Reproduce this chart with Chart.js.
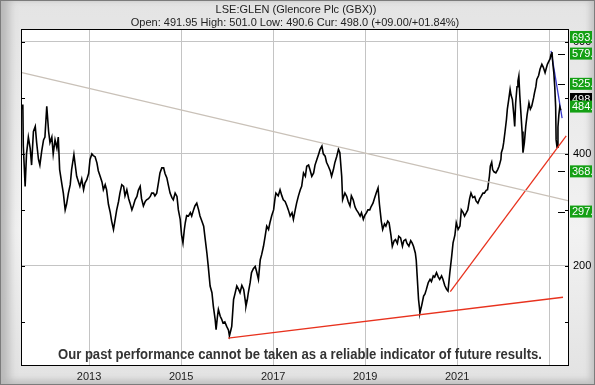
<!DOCTYPE html>
<html lang="en">
<head>
<meta charset="UTF-8">
<title>LSE:GLEN</title>
<script src="https://cdn.jsdelivr.net/npm/chart.js"></script>
<style>
    body { margin: 0; }
    .frame {
        position: relative;
        width: 593px;
        height: 383px;
        border: 1px solid #7c7c7c;
        background: linear-gradient(to bottom, #e4e4e4, #f2f2f2 60%, #e2e2e2);
        box-shadow: inset 12px 0 10px -4px #b8b8b8, inset -6px 0 6px -2px #c4c4c4, inset 0 -6px 6px -2px #c4c4c4;
    }
    canvas { position: absolute; left: -1px; top: -1px; }
</style>
</head>
<body>
<div class="frame">
    <canvas id="chart" width="595" height="385"></canvas>
</div>

<script>
// price readings (GBX) against decimal year
const years = [
    2011.54, 2011.56, 2011.57, 2011.61, 2011.64, 2011.68, 2011.72, 2011.75, 2011.79, 2011.83,
    2011.86, 2011.90, 2011.93, 2011.97, 2012.01, 2012.04, 2012.08, 2012.12, 2012.15, 2012.19,
    2012.22, 2012.26, 2012.30, 2012.33, 2012.36, 2012.41, 2012.44, 2012.48, 2012.51, 2012.55,
    2012.59, 2012.62, 2012.67, 2012.73, 2012.77, 2012.80, 2012.84, 2012.88, 2012.91, 2012.95,
    2012.99, 2013.02, 2013.06, 2013.09, 2013.13, 2013.17, 2013.20, 2013.24, 2013.28, 2013.31,
    2013.35, 2013.38, 2013.42, 2013.46, 2013.49, 2013.53, 2013.57, 2013.60, 2013.64, 2013.67,
    2013.71, 2013.75, 2013.78, 2013.82, 2013.86, 2013.89, 2013.93, 2013.96, 2014.00, 2014.04,
    2014.07, 2014.11, 2014.14, 2014.18, 2014.22, 2014.25, 2014.29, 2014.33, 2014.36, 2014.40,
    2014.43, 2014.47, 2014.51, 2014.54, 2014.58, 2014.62, 2014.65, 2014.69, 2014.72, 2014.76,
    2014.80, 2014.83, 2014.87, 2014.91, 2014.94, 2014.98, 2015.01, 2015.04, 2015.07, 2015.09,
    2015.12, 2015.16, 2015.20, 2015.23, 2015.27, 2015.30, 2015.34, 2015.38, 2015.41, 2015.45,
    2015.49, 2015.52, 2015.56, 2015.59, 2015.63, 2015.67, 2015.70, 2015.74, 2015.76, 2015.79,
    2015.81, 2015.85, 2015.88, 2015.91, 2015.95, 2015.99, 2016.03, 2016.05, 2016.08, 2016.10,
    2016.14, 2016.17, 2016.21, 2016.25, 2016.28, 2016.32, 2016.36, 2016.39, 2016.41, 2016.44,
    2016.46, 2016.50, 2016.53, 2016.57, 2016.61, 2016.64, 2016.68, 2016.72, 2016.75, 2016.79,
    2016.83, 2016.86, 2016.90, 2016.93, 2016.97, 2017.01, 2017.04, 2017.06, 2017.11, 2017.15,
    2017.19, 2017.22, 2017.26, 2017.30, 2017.33, 2017.37, 2017.41, 2017.44, 2017.48, 2017.51,
    2017.55, 2017.59, 2017.62, 2017.66, 2017.70, 2017.73, 2017.77, 2017.80, 2017.84, 2017.88,
    2017.91, 2017.95, 2017.99, 2018.02, 2018.06, 2018.09, 2018.13, 2018.16, 2018.20, 2018.24,
    2018.27, 2018.31, 2018.34, 2018.38, 2018.42, 2018.45, 2018.49, 2018.51, 2018.56, 2018.60,
    2018.63, 2018.67, 2018.70, 2018.74, 2018.78, 2018.81, 2018.85, 2018.89, 2018.92, 2018.96,
    2018.99, 2019.03, 2019.06, 2019.10, 2019.13, 2019.17, 2019.20, 2019.24, 2019.28, 2019.31,
    2019.33, 2019.35, 2019.38, 2019.42, 2019.45, 2019.49, 2019.52, 2019.56, 2019.59, 2019.63,
    2019.66, 2019.70, 2019.73, 2019.77, 2019.81, 2019.84, 2019.88, 2019.91, 2019.95, 2019.99,
    2020.02, 2020.05, 2020.09, 2020.11, 2020.13, 2020.16, 2020.18, 2020.19, 2020.23, 2020.27,
    2020.30, 2020.33, 2020.37, 2020.41, 2020.44, 2020.48, 2020.51, 2020.55, 2020.59, 2020.62,
    2020.66, 2020.69, 2020.73, 2020.77, 2020.80, 2020.84, 2020.88, 2020.91, 2020.95, 2020.98,
    2021.02, 2021.06, 2021.09, 2021.13, 2021.16, 2021.20, 2021.23, 2021.27, 2021.30, 2021.34,
    2021.38, 2021.41, 2021.45, 2021.49, 2021.52, 2021.56, 2021.59, 2021.63, 2021.66, 2021.70,
    2021.72, 2021.75, 2021.77, 2021.80, 2021.84, 2021.88, 2021.91, 2021.95, 2021.96, 2021.99,
    2022.01, 2022.04, 2022.07, 2022.09, 2022.12, 2022.15, 2022.17, 2022.20, 2022.23, 2022.25,
    2022.27, 2022.30, 2022.32, 2022.34, 2022.36, 2022.38, 2022.41, 2022.43, 2022.46, 2022.49,
    2022.52, 2022.56, 2022.59, 2022.62, 2022.66, 2022.68, 2022.71, 2022.73, 2022.77, 2022.80,
    2022.84, 2022.87, 2022.91, 2022.96, 2023.02, 2023.04, 2023.06, 2023.08, 2023.10, 2023.12,
    2023.14, 2023.15, 2023.17, 2023.19, 2023.21, 2023.23, 2023.25
];
const prices = [
    479, 488, 414, 342, 400, 430, 410, 380, 440, 449,
    420, 390, 380, 405, 425, 430, 485, 440, 420, 430,
    400, 425, 410, 430, 372, 345, 330, 300, 310, 330,
    345, 372, 399, 360, 350, 342, 355, 336, 348, 354,
    365, 390, 400, 397, 395, 384, 370, 360, 350, 336,
    345, 336, 310, 295, 280, 265, 285, 300, 315, 330,
    345, 342, 325, 336, 320, 312, 300, 307, 318, 324,
    335, 342, 320, 307, 315, 318, 320, 324, 330, 330,
    325, 330, 350, 366, 375, 375, 365, 357, 345, 330,
    322, 318, 330, 324, 300, 283, 255, 241, 265, 277,
    290, 289, 295, 289, 300, 307, 312, 300, 289, 280,
    271, 250, 223, 199, 164, 152, 128, 104, 86, 110,
    122, 110, 105, 98, 100, 92, 85, 75, 85, 92,
    140, 150, 164, 158, 152, 165, 158, 140, 128, 140,
    152, 170, 188, 195, 199, 190, 176, 211, 220, 235,
    255, 271, 265, 277, 290, 300, 320, 330, 325, 336,
    325, 318, 315, 307, 300, 289, 295, 283, 300, 312,
    325, 336, 342, 366, 360, 378, 380, 372, 360, 366,
    380, 390, 400, 408, 414, 400, 396, 385, 378, 370,
    360, 372, 384, 395, 408, 402, 360, 318, 330, 324,
    315, 307, 325, 318, 305, 300, 295, 289, 295, 283,
    290, 295, 300, 300, 306, 312, 320, 330, 339, 310,
    295, 280, 265, 275, 271, 280, 277, 255, 235, 245,
    247, 240, 253, 250, 235, 245, 247, 240, 235, 245,
    241, 235, 223, 210, 182, 140, 125, 116, 130, 146,
    150, 158, 170, 176, 172, 182, 180, 188, 180, 176,
    182, 176, 165, 158, 155, 188, 217, 241, 255, 277,
    265, 271, 300, 295, 289, 295, 300, 320, 330, 322,
    324, 316, 312, 320, 324, 330, 330, 335, 336, 360,
    378, 385, 372, 368, 366, 372, 378, 390, 402, 410,
    420, 440, 461, 480, 497, 515, 505, 497, 470, 449,
    490, 520, 530, 539, 505, 479, 440, 402, 420, 449,
    470, 491, 480, 485, 500, 509, 520, 533, 540, 551,
    560, 555, 545, 560, 570, 578, 582, 560, 545, 520,
    484, 425, 412, 448, 470, 484, 478
];

// trend lines: [start, end]
const greyLineX = [2011.54, 2023.43];
const greyLineY = [545, 316];
const redLowX = [2016.02, 2023.30];
const redLowY = [71, 144];
const redUpX = [2020.85, 2023.37];
const redUpY = [154, 432];
const blueX = [2023.04, 2023.28];
const blueY = [584, 464];

// axes
const yearTicks = [2013, 2015, 2017, 2019, 2021, 2023];
const yearLabels = ['2013', '2015', '2017', '2019', '2021', ''];
const priceTicks = [100, 200, 300, 400, 500, 600];
const priceLabels = ['', '200', '', '400', '', '600'];
const priceMin = 23;
const priceMax = 623;

// right-hand markers
const levels = [693.1, 579.1, 525.1, 484.5, 368.8, 297.0];
const levelText = ['693.1', '579.1', '525.1', '484.5', '368.8', '297.0'];
const current = 498.0;
const currentText = '498.0';

const title1 = 'LSE:GLEN (Glencore Plc (GBX))';
const title2 = 'Open: 491.95 High: 501.0 Low: 490.6 Cur: 498.0 (+09.00/+01.84%)';
const disclaimer = 'Our past performance cannot be taken as a reliable indicator of future results.';

const toPoints = (xs, ys) => xs.map((x, i) => ({ x: x, y: ys[i] }));

const decor = {
    id: 'decor',
    beforeDraw(chart) {
        const { ctx, chartArea: a } = chart;
        ctx.save();
        ctx.fillStyle = '#ffffff';
        ctx.fillRect(a.left, a.top, a.right - a.left, a.bottom - a.top);
        ctx.restore();
    },
    afterDatasetsDraw(chart) {
        const { ctx, chartArea: a } = chart;
        ctx.save();
        ctx.fillStyle = '#333333';
        ctx.font = 'bold 14px "Liberation Sans Narrow", "Arial Narrow", sans-serif';
        ctx.textAlign = 'center';
        ctx.textBaseline = 'middle';
        ctx.fillText(disclaimer, 300, a.bottom - 10, 484);
        ctx.restore();
    },
    afterDraw(chart) {
        const { ctx, chartArea: a } = chart;
        const y = chart.scales.y;
        ctx.save();

        // border
        ctx.strokeStyle = '#000';
        ctx.lineWidth = 1;
        ctx.strokeRect(a.left + 0.5, a.top + 0.5, a.right - a.left - 1, a.bottom - a.top);

        // inward ticks on both sides
        ctx.beginPath();
        y.ticks.forEach(t => {
            const py = Math.round(y.getPixelForValue(t.value)) + 0.5;
            ctx.moveTo(a.left, py); ctx.lineTo(a.left + 4, py);
            ctx.moveTo(a.right - 4, py); ctx.lineTo(a.right, py);
        });
        ctx.stroke();

        // level dashes
        ctx.beginPath();
        levels.forEach(v => {
            if (v > priceMax || v === 484.5) return;
            const py = Math.round(y.getPixelForValue(v)) + 0.5;
            ctx.moveTo(a.right - 11, py); ctx.lineTo(a.right - 4, py);
        });
        ctx.stroke();

        // level boxes
        ctx.beginPath();
        ctx.rect(a.right + 1, 0, 591 - a.right, 385);
        ctx.clip();
        ctx.font = '11px "Liberation Sans", Arial, sans-serif';
        ctx.textBaseline = 'middle';
        ctx.textAlign = 'left';
        const box = (v, txt, bg) => {
            let py = y.getPixelForValue(v);
            if (py < a.top + 8) py = a.top + 8;
            ctx.fillStyle = bg;
            ctx.fillRect(a.right + 1, py - 6, 40, 12);
            ctx.fillStyle = '#fff';
            ctx.fillText(txt, a.right + 3, py + 0.5);
        };
        box(current, currentText, '#000');
        levels.forEach((v, i) => box(v, levelText[i], '#14a014'));
        ctx.restore();

        // titles
        ctx.save();
        ctx.fillStyle = '#222';
        ctx.font = '11px "Liberation Sans", Arial, sans-serif';
        ctx.textAlign = 'center';
        ctx.textBaseline = 'middle';
        ctx.fillText(title1, 296, 10);
        ctx.fillText(title2, 295, 23);
        ctx.restore();
    }
};

new Chart(document.getElementById('chart'), {
    type: 'line',
    data: {
        datasets: [
            { data: toPoints(greyLineX, greyLineY), borderColor: '#c9c1b8', borderWidth: 1.3 },
            { data: toPoints(redLowX, redLowY), borderColor: '#e8321e', borderWidth: 1.3 },
            { data: toPoints(redUpX, redUpY), borderColor: '#e8321e', borderWidth: 1.3 },
            { data: toPoints(years, prices), borderColor: '#000', borderWidth: 1.6 },
            { data: toPoints(blueX, blueY), borderColor: '#3a3acc', borderWidth: 1.3 }
        ]
    },
    options: {
        responsive: false,
        animation: false,
        devicePixelRatio: 1,
        layout: { padding: { left: 21, top: 29, right: 0, bottom: 0 } },
        elements: { point: { radius: 0 }, line: { tension: 0 } },
        plugins: { legend: { display: false }, tooltip: { enabled: false } },
        scales: {
            x: {
                type: 'linear',
                min: 2011.52,
                max: 2023.43,
                afterBuildTicks: s => { s.ticks = yearTicks.map(v => ({ value: v })); },
                afterFit: s => { s.height = 20; },
                grid: { color: '#c4c4c4', drawTicks: false },
                border: { display: false },
                ticks: {
                    autoSkip: false,
                    maxRotation: 0,
                    padding: 5,
                    color: '#222',
                    font: { family: '"Liberation Sans", Arial, sans-serif', size: 11 },
                    callback: (v) => yearLabels[yearTicks.indexOf(v)]
                }
            },
            y: {
                position: 'right',
                min: priceMin,
                max: priceMax,
                afterBuildTicks: s => { s.ticks = priceTicks.map(v => ({ value: v })); },
                afterFit: s => { s.width = 26; },
                grid: {
                    drawTicks: false,
                    color: c => (c.tick && c.tick.value % 200 === 0) ? '#c4c4c4' : 'rgba(0,0,0,0)'
                },
                border: { display: false },
                ticks: {
                    autoSkip: false,
                    padding: 4,
                    color: '#000',
                    font: { family: '"Liberation Sans", Arial, sans-serif', size: 11 },
                    callback: v => priceLabels[priceTicks.indexOf(v)]
                }
            }
        }
    },
    plugins: [decor]
});
</script>
</body>
</html>
